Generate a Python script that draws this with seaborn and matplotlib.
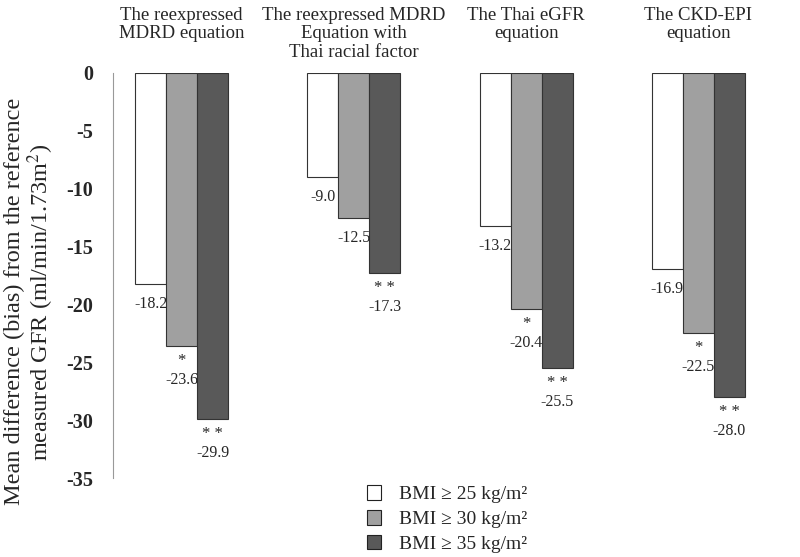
import matplotlib
matplotlib.use("Agg")
import matplotlib.pyplot as plt
import seaborn as sns
import pandas as pd
from matplotlib.patches import Patch

equations = [
    "The reexpressed\nMDRD equation",
    "The reexpressed MDRD\nEquation with\nThai racial factor",
    "The Thai eGFR\nequation",
    "The CKD-EPI\nequation",
]
groups = ["BMI \u2265 25 kg/m\u00b2", "BMI \u2265 30 kg/m\u00b2", "BMI \u2265 35 kg/m\u00b2"]
bmi25 = [-18.2, -9.0, -13.2, -16.9]
bmi30 = [-23.6, -12.5, -20.4, -22.5]
bmi35 = [-29.9, -17.3, -25.5, -28.0]
stars25 = ["", "", "", ""]
stars30 = ["*", "", "*", "*"]
stars35 = ["* *", "* *", "* *", "* *"]
yticks = [0, -5, -10, -15, -20, -25, -30, -35]
colors = ["#ffffff", "#a0a0a0", "#595959"]

sns.set_style("white")
plt.rcParams["font.family"] = ["Liberation Serif", "DejaVu Serif"]
plt.rcParams["mathtext.fontset"] = "stix"

rows = []
for vals, g in zip([bmi25, bmi30, bmi35], groups):
    for e, v in zip(equations, vals):
        rows.append({"eq": e, "grp": g, "val": v})
df = pd.DataFrame(rows)

fig = plt.figure(figsize=(8.0, 5.57), dpi=100)
ax = fig.add_axes([0.141, 0.1418, 0.818, 0.7272])
sns.barplot(data=df, x="eq", y="val", hue="grp", order=equations, hue_order=groups,
            palette=colors, width=0.54, edgecolor="#333333", linewidth=0.8,
            saturation=1, legend=False, ax=ax, errorbar=None)

ax.set_ylim(-35, 0)
ax.set_xlim(-0.4, 3.4)
ax.set_yticks(yticks)
ax.set_yticklabels([str(t) for t in yticks], fontweight="bold", fontsize=14.5)
ax.tick_params(axis="y", length=0, pad=14)
ax.set_xticks([])
ax.set_xlabel("")
ax.set_ylabel("Mean difference (bias) from the reference\nmeasured GFR (ml/min/1.73m$^{2}$)",
              fontsize=17.5, linespacing=1.0)
ax.yaxis.set_label_coords(-0.087, 0.435)
for s in ["top", "right", "bottom"]:
    ax.spines[s].set_visible(False)
ax.spines["left"].set_color("#999999")
ax.spines["left"].set_linewidth(0.8)

# value labels
allstars = [stars25, stars30, stars35]
allvals = [bmi25, bmi30, bmi35]
for cont, vals, stars in zip(ax.containers, allvals, allstars):
    for bar, v, s in zip(cont, vals, stars):
        cx = bar.get_x() + bar.get_width() / 2
        y = min(bar.get_y(), bar.get_y() + bar.get_height())
        if s:
            ax.annotate(s, (cx, y), xytext=(0, -5), textcoords="offset points",
                        ha="center", va="top", fontsize=12)
            off = 24.5
        else:
            off = 14.5
        ax.annotate(f"{v:.1f}", (cx, y), xytext=(0, -off), textcoords="offset points",
                    ha="center", va="center", fontsize=11.5)

# category titles
for i, e in enumerate(equations):
    xf = ax.transData.transform((i, 0))[0] / fig.dpi / 8.0
    fig.text(xf, 0.988, e, ha="center", va="top", fontsize=13.5, linespacing=1.12)

handles = [Patch(facecolor=c, edgecolor="#222222", linewidth=0.8) for c in colors]
fig.legend(handles, groups, loc="upper left", bbox_to_anchor=(0.446, 0.146),
           frameon=False, fontsize=14, handlelength=0.75, handleheight=0.75,
           labelspacing=0.36, handletextpad=0.9, borderpad=0.0)

fig.savefig("out.png", dpi=100)
